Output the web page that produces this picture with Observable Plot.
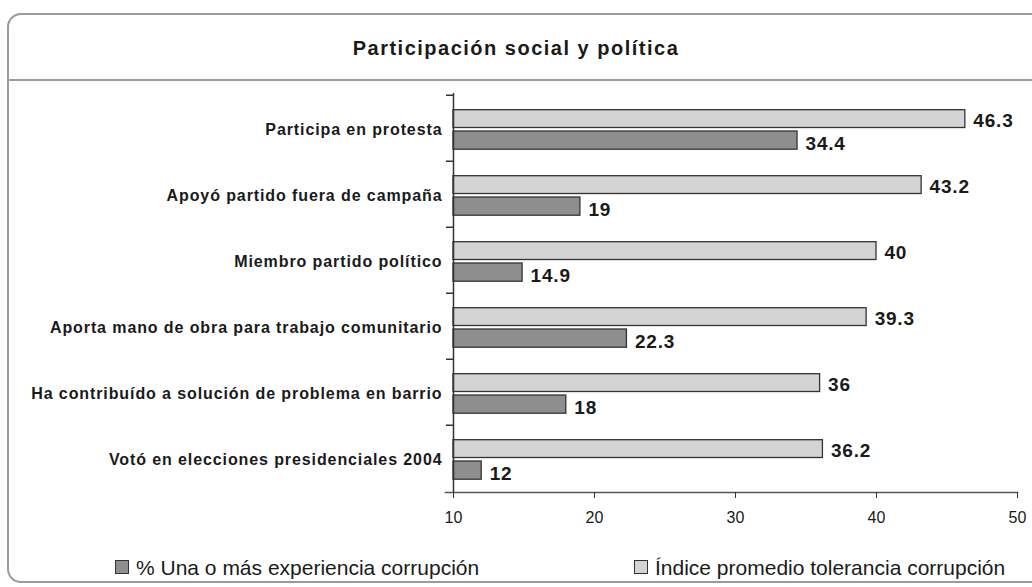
<!DOCTYPE html>
<html><head><meta charset="utf-8">
<script src="https://cdn.jsdelivr.net/npm/d3@7"></script>
<script src="https://cdn.jsdelivr.net/npm/@observablehq/plot@0.6"></script>
<style>
body{margin:0;background:#fff;}
#wrap{position:relative;width:1032px;height:587px;overflow:hidden;font-family:"Liberation Sans",Arial,sans-serif;}
#box{position:absolute;left:7px;top:13px;width:1060px;height:570px;border:2px solid #9b9b9b;border-radius:14px;box-sizing:border-box;}
#hline{position:absolute;left:7px;top:79px;width:1032px;height:2px;background:#9b9b9b}
#title{position:absolute;top:36px;left:0;width:1032px;text-align:center;font-weight:bold;font-size:20px;letter-spacing:1.5px;color:#1a1a1a;line-height:24px}
#chart{position:absolute;left:0;top:80px}
#chart svg [aria-label="y-axis tick label"] text{letter-spacing:0.9px}
#chart svg g.vlab text{letter-spacing:0.8px}
.leg{position:absolute;top:556px;font-family:"Liberation Sans Narrow","Arial Narrow","Liberation Sans",sans-serif;font-size:21px;color:#1a1a1a;line-height:24px;white-space:nowrap}
.sw{display:inline-block;width:12px;height:12px;border:1px solid #333;vertical-align:middle;margin-right:7px;position:relative;top:-2px}
</style></head>
<body><div id="wrap">
<div id="box"></div><div id="hline"></div>
<div id="title"></div>
<div id="chart"></div>
<div class="leg" id="leg1"></div><div class="leg" id="leg2"></div>
</div>
<script>
const titleText = "Participación social y política";
const categories = ["Participa en protesta","Apoyó partido fuera de campaña","Miembro partido político","Aporta mano de obra para trabajo comunitario","Ha contribuído a solución de problema en barrio","Votó en elecciones presidenciales 2004"];
const tolerancia = [46.3,43.2,40,39.3,36,36.2];
const experiencia = [34.4,19,14.9,22.3,18,12];
const xTicks = [10,20,30,40,50];
const seriesNames = ["% Una o más experiencia corrupción","Índice promedio tolerancia corrupción"];
const colors = {exp:"#8e8e8e", tol:"#d4d4d4"};

document.getElementById("title").textContent = titleText;
const tolData = categories.map((c,i)=>({cat:c, v:tolerancia[i]}));
const expData = categories.map((c,i)=>({cat:c, v:experiencia[i]}));
const fmt = v => String(v);
const H = 460, mT = 13, mB = 48;

const chart = Plot.plot({
  width: 1032, height: H,
  marginLeft: 453, marginRight: 15, marginTop: mT, marginBottom: mB,
  style: {fontFamily: "'Liberation Sans', Arial, sans-serif", color: "#1a1a1a", overflow: "visible"},
  x: {domain: [10,50], ticks: xTicks},
  y: {domain: categories, padding: 0},
  marks: [
    Plot.barX(tolData, {x1: 10, x2: "v", y: "cat", fill: colors.tol, stroke: "#333", strokeWidth: 1.3, insetTop: 14.7, insetBottom: 33.5}),
    Plot.barX(expData, {x1: 10, x2: "v", y: "cat", fill: colors.exp, stroke: "#333", strokeWidth: 1.3, insetTop: 36, insetBottom: 11.8}),
    Plot.text(tolData, {x: "v", y: "cat", text: d=>fmt(d.v), dx: 8, dy: -8, textAnchor: "start", fontSize: 19, fontWeight: "bold", fill: "#1a1a1a", className: "vlab"}),
    Plot.text(expData, {x: "v", y: "cat", text: d=>fmt(d.v), dx: 8, dy: 15.5, textAnchor: "start", fontSize: 19, fontWeight: "bold", fill: "#1a1a1a", className: "vlab"}),
    Plot.ruleX([10], {stroke: "#333", strokeWidth: 1.5}),
    Plot.ruleY(categories, {y: d=>d, x1: 10, x2: 10, insetLeft: -7, dy: -66.5/2, stroke: "#333", strokeWidth: 1.5}),
    Plot.frame({anchor: "bottom", insetLeft: -8, stroke: "#555", strokeWidth: 1.5}),
    Plot.axisX({ticks: xTicks, tickSize: 6, tickPadding: 13, fontSize: 16, label: null, stroke: "#333"}),
    Plot.axisY({tickSize: 0, tickPadding: 11, fontSize: 16, fontWeight: "bold", label: null, dy: 1})
  ]
});
document.getElementById("chart").appendChild(chart);

const l1 = document.getElementById("leg1"), l2 = document.getElementById("leg2");
l1.style.left = "115px"; l2.style.left = "634px";
l1.innerHTML = `<span class="sw" style="background:${colors.exp}"></span>`;
l1.appendChild(document.createTextNode(seriesNames[0]));
l2.innerHTML = `<span class="sw" style="background:${colors.tol}"></span>`;
l2.appendChild(document.createTextNode(seriesNames[1]));
</script>
</body></html>
